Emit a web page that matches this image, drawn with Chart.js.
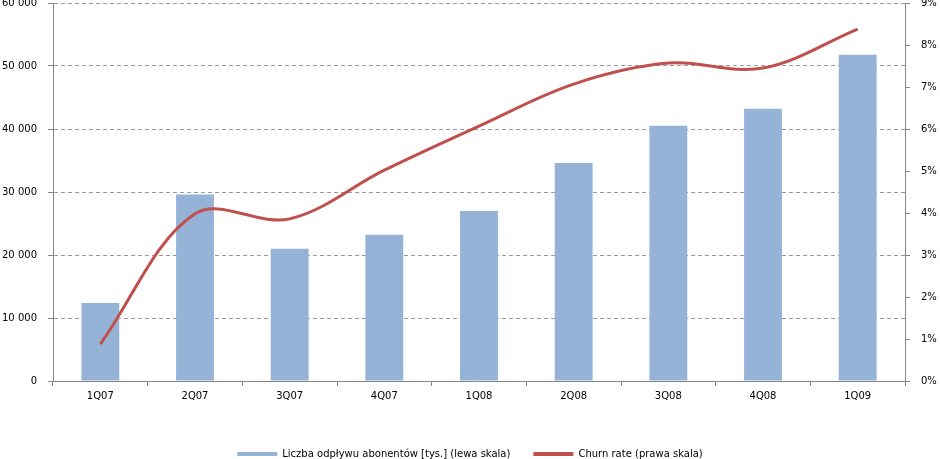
<!DOCTYPE html>
<html>
<head>
<meta charset="utf-8">
<script src="https://cdn.jsdelivr.net/npm/chart.js@4/dist/chart.umd.min.js"></script>
<style>
  html, body { margin: 0; padding: 0; background: #fff; }
  #wrap { width: 940px; height: 459px; }
</style>
</head>
<body>
<div id="wrap"><canvas id="myChart" width="940" height="459"></canvas></div>
<script>
'use strict';

var quarters = ['1Q07', '2Q07', '3Q07', '4Q07', '1Q08', '2Q08', '3Q08', '4Q08', '1Q09'];
var odplyw = [12400, 29600, 21000, 23200, 27000, 34600, 40500, 43200, 51800];
var churn = [0.88, 3.98, 3.86, 5.02, 6.07, 7.07, 7.57, 7.45, 8.38];

var gray = '#868686';

function thousands(v) {
    return String(v).replace(/\B(?=(\d{3})+(?!\d))/g, ' ');
}

Chart.defaults.font.family = '"DejaVu Sans", Verdana, sans-serif';
Chart.defaults.font.size = 10;
Chart.defaults.color = '#000';

// push legend down towards the bottom edge
var legendShift = {
    id: 'legendShift',
    afterLayout: function (chart) {
        if (chart.legend) {
            chart.legend.top += 10;
            chart.legend.bottom += 10;
        }
    }
};

new Chart(document.getElementById('myChart'), {
    type: 'bar',
    data: {
        labels: quarters,
        datasets: [{
            type: 'line',
            label: 'Churn rate (prawa skala)',
            data: churn,
            yAxisID: 'y1',
            borderColor: '#C0504D',
            backgroundColor: '#C0504D',
            borderWidth: 3,
            pointRadius: 0,
            tension: 0.35,
            order: 0
        }, {
            label: 'Liczba odpływu abonentów [tys.] (lewa skala)',
            data: odplyw,
            yAxisID: 'y',
            backgroundColor: '#95B3D7',
            barPercentage: 0.4,
            categoryPercentage: 1,
            order: 1
        }]
    },
    plugins: [legendShift],
    options: {
        responsive: false,
        animation: false,
        plugins: {
            title: { display: false },
            tooltip: { enabled: false },
            legend: {
                position: 'bottom',
                reverse: true,
                labels: {
                    boxWidth: 40,
                    boxHeight: 4,
                    padding: 23,
                    generateLabels: function (chart) {
                        return chart.data.datasets.map(function (ds, i) {
                            return {
                                text: ds.label,
                                fillStyle: ds.type === 'line' ? ds.borderColor : ds.backgroundColor,
                                strokeStyle: 'rgba(0,0,0,0)',
                                lineWidth: 0,
                                datasetIndex: i
                            };
                        });
                    }
                }
            }
        },
        scales: {
            x: {
                grid: {
                    offset: true,
                    drawOnChartArea: false,
                    tickLength: 5,
                    color: gray
                },
                border: { color: gray },
                ticks: { padding: 4 },
                afterFit: function (scale) {
                    scale.height = 35;
                }
            },
            y: {
                position: 'left',
                min: 0,
                max: 60000,
                ticks: {
                    stepSize: 10000,
                    padding: 11,
                    callback: function (v) { return thousands(v); }
                },
                grid: {
                    color: '#9a9a9a',
                    tickColor: gray,
                    tickLength: 5,
                    tickBorderDash: []
                },
                border: { color: gray, dash: [4, 3] },
                afterFit: function (scale) {
                    scale.width = 53;
                    scale.paddingTop = 3;
                    scale.paddingBottom = 0;
                }
            },
            y1: {
                position: 'right',
                min: 0,
                max: 9,
                ticks: {
                    stepSize: 1,
                    padding: 11,
                    callback: function (v) { return v + '%'; }
                },
                grid: {
                    drawOnChartArea: false,
                    color: gray,
                    tickLength: 5
                },
                border: { color: gray },
                afterFit: function (scale) {
                    scale.width = 35;
                    scale.paddingTop = 3;
                    scale.paddingBottom = 0;
                }
            }
        }
    }
});
</script>
</body>
</html>
